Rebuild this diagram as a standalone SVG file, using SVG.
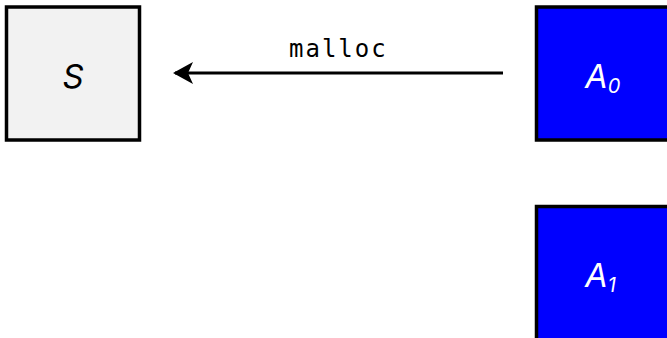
<svg xmlns="http://www.w3.org/2000/svg" width="667" height="338" viewBox="0 0 667 338">
  <style>
    .box { stroke: #000; stroke-width: 3.5; }
    .plain { fill: #f2f2f2; }
    .blue { fill: #0000ff; }
    .lbl { font-family: Inter, Lato, "Liberation Sans", sans-serif; font-style: italic; font-weight: 400; font-size: 33px; }
    .sub { font-size: 20px; }
    .edge { stroke: #000; stroke-width: 3; fill: none; }
    .code { font-family: "DejaVu Sans Mono", "Liberation Mono", monospace; font-size: 24px; letter-spacing: 2px; fill: #000; }
  </style>
  <defs>
    <!-- arrowhead: tip at +x, barbs swept back with a notch -->
    <marker id="head" markerUnits="userSpaceOnUse" markerWidth="26" markerHeight="26" refX="20" refY="12" orient="auto" overflow="visible">
      <path d="M22,12 L2,1 L7,12 L2,23 Z" fill="#000"/>
    </marker>
  </defs>

  <g id="S">
    <rect class="box plain" x="6.5" y="7" width="133" height="133"/>
    <text class="lbl" x="73" y="88" text-anchor="middle" fill="#000">S</text>
  </g>

  <g id="A0">
    <rect class="box blue" x="536.5" y="7" width="140" height="133"/>
    <text class="lbl" x="585" y="88" fill="#fff">A<tspan class="sub" dy="5">0</tspan></text>
  </g>

  <g id="A1">
    <rect class="box blue" x="536.5" y="206.5" width="140" height="140"/>
    <text class="lbl" x="585" y="287" fill="#fff">A<tspan class="sub" dy="5">1</tspan></text>
  </g>

  <g id="connectors">
    <line class="edge" x1="503" y1="73" x2="175" y2="73" marker-end="url(#head)"/>
    <text class="code" x="289" y="57">malloc</text>
  </g>
</svg>
